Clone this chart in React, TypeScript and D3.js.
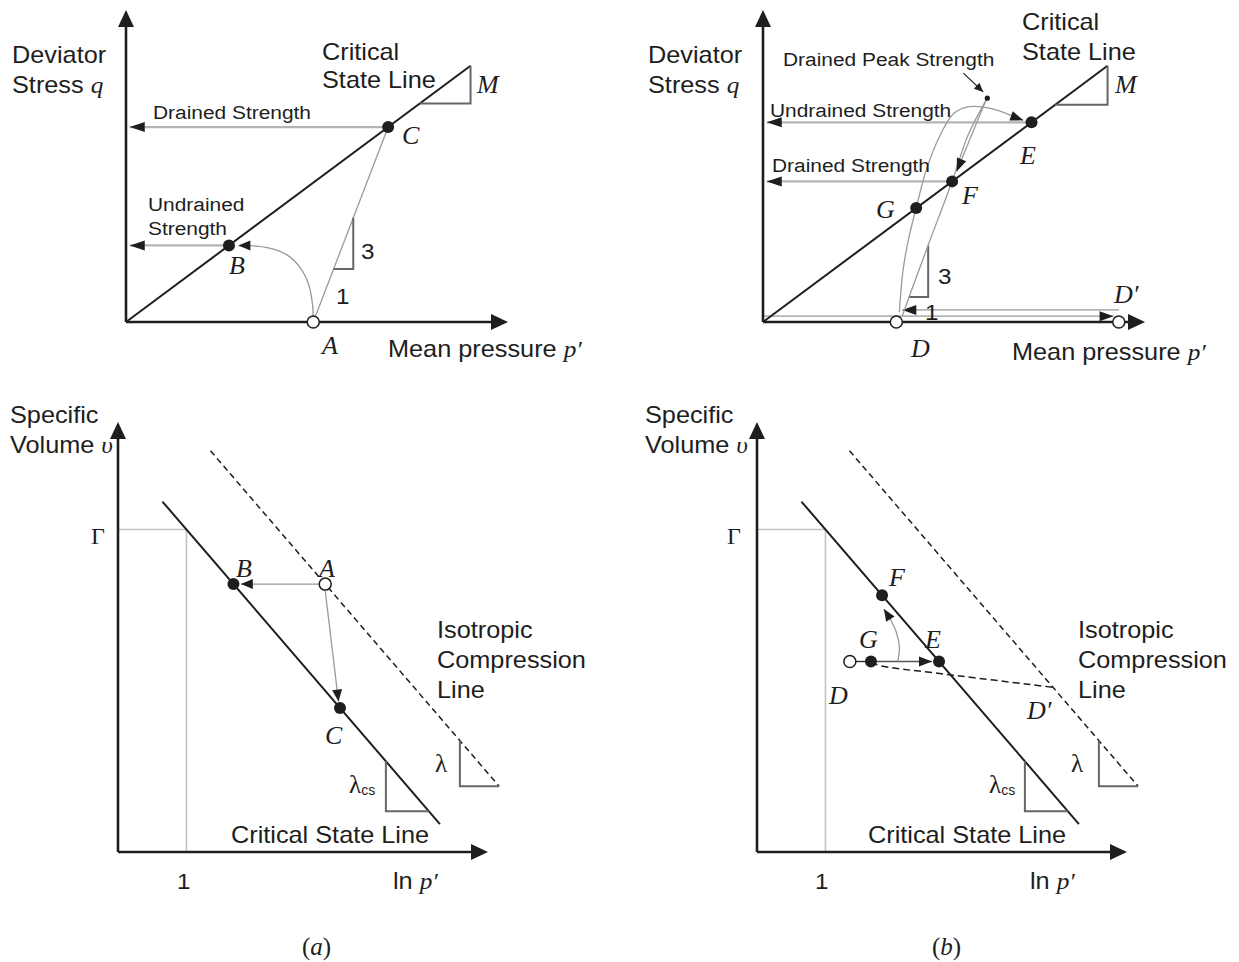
import React from "react";
import * as d3 from "d3";

type Pt = [number, number];

// ---------- p'–q plane (arbitrary stress units) ----------
const P_AXIS_END = 10.2;
const Q_AXIS_END = 8.0;
const M_SLOPE = 0.714;
const CSL_P_END = 9.2;
const M_TRI_P_A: Pt = [7.85, 9.2];
const M_TRI_P_B: Pt = [7.8, 9.2];

// (a) lightly overconsolidated sample
const A_P = 5.0;
const B_P = 2.75;
const C_P = 7.0;
const undrainedPathA: Pt[] = [
  [5.0, 0.0], [4.98, 0.45], [4.88, 0.95], [4.66, 1.38], [4.3, 1.72],
  [3.8, 1.9], [3.3, 1.96], [3.0, 1.96],
];
const drainedPathA: Pt[] = [[5.0, 0.0], [7.0, 5.0]];
const slopeTriQA: Pt = [1.36, 2.67];

// (b) heavily overconsolidated sample
const D_P = 3.56;
const D2_P = 9.5;
const E_P = 7.17;
const F_P = 5.05;
const G_P = 4.09;
const PEAK: Pt = [5.99, 5.74];
const undrainedPathB: Pt[] = [
  [3.64, 0.25], [3.74, 1.33], [3.88, 2.1], [4.09, 2.92], [4.36, 3.9],
  [4.73, 4.79], [5.1, 5.35], [5.5, 5.52], [6.1, 5.47], [6.95, 5.17],
];
const drainedUpB: Pt[] = [
  [3.72, 0.15], [3.9, 0.64], [4.41, 1.97], [5.05, 3.61], [5.48, 4.8], [5.99, 5.74],
];
const drainedDownB: Pt[] = [[5.95, 5.68], [5.17, 3.86]];
const loadingB: Pt[] = [[0, 0.15], [9.36, 0.15]];
const unloadingB: Pt[] = [[9.5, 0.31], [3.72, 0.31]];
const slopeTriB = { p: [3.9, 4.41], q: [0.64, 1.97] };
const peakPointer: Pt[] = [[5.35, 6.38], [5.88, 5.9]];

// ---------- v–ln p' plane ----------
const LN_AXIS_END = 10;
const V_AXIS_END = 10;
const GAMMA = 7.5;
const LN_P_ONE = 1.85;
const LAMBDA_CS = 1.0;
const N_ICL = 9.98;
const LAMBDA = 1.0;
const CSL_LN: Pt = [1.2, 8.7];
const ICL_LN: Pt = [2.5, 10.3];
const LCS_TRI: Pt = [7.24, 8.4];
const L_TRI: Pt = [9.24, 10.3];

// (a)
const A_LN = 5.6;
const B_LN = 3.12;
const C_LN = 6.0;
// (b)
const D_LN = 2.51;
const G_LN = 3.08;
const E_LN = 4.92;
const F_LN = 3.38;
const swellingB: Pt[] = [[3.08, 4.4], [3.4, 4.32], [5.14, 4.13], [8.0, 3.83]];
const drainedVB: Pt[] = [[3.8, 4.43], [3.85, 4.75], [3.77, 5.1], [3.6, 5.42], [3.43, 5.65]];

const cslV = (x: number) => GAMMA - LAMBDA_CS * (x - LN_P_ONE);
const iclV = (x: number) => N_ICL - LAMBDA * (x - LN_P_ONE);

const SANS = "'Liberation Sans', Arial, Helvetica, sans-serif";
const SERIF = "'Liberation Serif', 'Times New Roman', serif";
const INK = "#1e1e1e";
const GREY = "#9a9a9a";

function headPoints(from: Pt, to: Pt, len = 13, hw = 5): string {
  const dx = to[0] - from[0];
  const dy = to[1] - from[1];
  const d = Math.hypot(dx, dy) || 1;
  const ux = dx / d;
  const uy = dy / d;
  const bx = to[0] - ux * len;
  const by = to[1] - uy * len;
  return `${to[0]},${to[1]} ${bx - uy * hw},${by + ux * hw} ${bx + uy * hw},${by - ux * hw}`;
}

const smooth = d3.line<Pt>().curve(d3.curveCatmullRom.alpha(0.5));
const straight = d3.line<Pt>();

function Arrow({ pts, stroke = GREY, width = 1.3, curved = false, len = 13, hw = 5, dash }: {
  pts: Pt[]; stroke?: string; width?: number; curved?: boolean; len?: number; hw?: number; dash?: string;
}) {
  const n = pts.length;
  const d = (curved ? smooth : straight)(pts) || "";
  return (
    <g>
      <path d={d} fill="none" stroke={stroke} strokeWidth={width} strokeDasharray={dash} />
      <polygon points={headPoints(pts[n - 2], pts[n - 1], len, hw)} fill={INK} />
    </g>
  );
}

function Axes({ x0, y0, x1, y1 }: { x0: number; y0: number; x1: number; y1: number }) {
  return (
    <g>
      <line x1={x0} y1={y0} x2={x0} y2={y1 + 10} stroke={INK} strokeWidth={2.6} />
      <line x1={x0} y1={y0} x2={x1 - 10} y2={y0} stroke={INK} strokeWidth={2.6} />
      <polygon points={headPoints([x0, y0], [x0, y1], 17, 8)} fill={INK} />
      <polygon points={headPoints([x0, y0], [x1, y0], 17, 8)} fill={INK} />
    </g>
  );
}

function Label({ x, y, size = 23, children }: { x: number; y: number; size?: number; children: React.ReactNode }) {
  return (
    <text transform={`translate(${x},${y}) scale(1.1,1)`} fontFamily={SANS} fontSize={size} fill={INK}>
      {children}
    </text>
  );
}

function Sym({ x, y, size = 26, italic = true, children }: { x: number; y: number; size?: number; italic?: boolean; children: React.ReactNode }) {
  return (
    <text x={x} y={y} fontFamily={SERIF} fontStyle={italic ? "italic" : "normal"} fontSize={size} fill={INK}>
      {children}
    </text>
  );
}

const Ital = ({ children }: { children: React.ReactNode }) => (
  <tspan fontFamily={SERIF} fontStyle="italic">{children}</tspan>
);

function Dot({ x, y, open = false, r = 6 }: { x: number; y: number; open?: boolean; r?: number }) {
  return open ? (
    <circle cx={x} cy={y} r={r} fill="#fff" stroke={INK} strokeWidth={1.5} />
  ) : (
    <circle cx={x} cy={y} r={r} fill={INK} />
  );
}

export default function App() {
  const qY = d3.scaleLinear().domain([0, Q_AXIS_END]).range([322, 10]);
  const pXa = d3.scaleLinear().domain([0, P_AXIS_END]).range([126, 508]);
  const pXb = d3.scaleLinear().domain([0, P_AXIS_END]).range([763, 1145]);
  const vY = d3.scaleLinear().domain([0, V_AXIS_END]).range([852, 422]);
  const lnXa = d3.scaleLinear().domain([0, LN_AXIS_END]).range([118, 488]);
  const lnXb = d3.scaleLinear().domain([0, LN_AXIS_END]).range([757, 1127]);

  const top = (px: d3.ScaleLinear<number, number>) => (pt: Pt): Pt => [px(pt[0]), qY(pt[1])];
  const bot = (lx: d3.ScaleLinear<number, number>) => (pt: Pt): Pt => [lx(pt[0]), vY(pt[1])];
  const ta = top(pXa);
  const tb = top(pXb);
  const ba = bot(lnXa);
  const bb = bot(lnXb);

  // p' on the drained stress path of (a) at a given q
  const drainP = (q: number) => drainedPathA[0][0] + (q / drainedPathA[1][1]) * (drainedPathA[1][0] - drainedPathA[0][0]);

  const mTri = (t: (p: Pt) => Pt, pr: Pt) => {
    const a = t([pr[0], M_SLOPE * pr[0]]);
    const b = t([pr[1], M_SLOPE * pr[0]]);
    const c = t([pr[1], M_SLOPE * pr[1]]);
    return `M${a[0]},${a[1]}L${b[0]},${b[1]}L${c[0]},${c[1]}`;
  };

  const vTri = (t: (p: Pt) => Pt, pr: Pt, f: (x: number) => number) => {
    const a = t([pr[0], f(pr[0])]);
    const b = t([pr[0], f(pr[1])]);
    const c = t([pr[1], f(pr[1])]);
    return `M${a[0]},${a[1]}L${b[0]},${b[1]}L${c[0]},${c[1]}`;
  };

  const strengthArrow = (t: (p: Pt) => Pt, p: number, q: number) => (
    <Arrow pts={[t([p, q]), t([0.1, q])]} stroke="#b4b4b4" width={2.2} len={15} hw={5} />
  );

  const triStroke = "#666";

  return (
    <svg width={1239} height={962} style={{ position: "absolute", left: 0, top: 0, background: "#fff" }}>
      {/* ===== (a) p'–q ===== */}
      <g>
        {strengthArrow(ta, C_P, M_SLOPE * C_P)}
        {strengthArrow(ta, B_P, M_SLOPE * B_P)}
        <path d={straight([ta([0, 0]), ta([CSL_P_END, M_SLOPE * CSL_P_END])]) || ""} stroke={INK} strokeWidth={2} fill="none" />
        <path d={mTri(ta, M_TRI_P_A)} stroke={triStroke} strokeWidth={2} fill="none" />
        <path d={straight(drainedPathA.map(ta)) || ""} stroke={GREY} strokeWidth={1.3} fill="none" />
        <path
          d={(() => {
            const a = ta([drainP(slopeTriQA[0]), slopeTriQA[0]]);
            const b = ta([drainP(slopeTriQA[1]), slopeTriQA[0]]);
            const c = ta([drainP(slopeTriQA[1]), slopeTriQA[1]]);
            return `M${a[0]},${a[1]}L${b[0]},${b[1]}L${c[0]},${c[1]}`;
          })()}
          stroke={triStroke} strokeWidth={2} fill="none"
        />
        <Arrow pts={undrainedPathA.map(ta)} curved len={12} hw={5} />
        <Axes x0={pXa(0)} y0={qY(0)} x1={pXa(P_AXIS_END)} y1={qY(Q_AXIS_END)} />
        <Dot x={pXa(A_P)} y={qY(0)} open />
        <Dot x={pXa(B_P)} y={qY(M_SLOPE * B_P)} />
        <Dot x={pXa(C_P)} y={qY(M_SLOPE * C_P)} />

        <Label x={12} y={63}>Deviator</Label>
        <Label x={12} y={93}>Stress <Ital>q</Ital></Label>
        <Label x={322} y={60}>Critical</Label>
        <Label x={322} y={88}>State Line</Label>
        <Sym x={477} y={93}>M</Sym>
        <Label x={153} y={119} size={19}>Drained Strength</Label>
        <Label x={148} y={211} size={19}>Undrained</Label>
        <Label x={148} y={235} size={19}>Strength</Label>
        <Label x={361} y={259} size={22}>3</Label>
        <Label x={336} y={304} size={22}>1</Label>
        <Sym x={229} y={274}>B</Sym>
        <Sym x={402} y={144}>C</Sym>
        <Sym x={322} y={354}>A</Sym>
        <Label x={388} y={357}>Mean pressure <Ital>p′</Ital></Label>
      </g>

      {/* ===== (b) p'–q ===== */}
      <g>
        {strengthArrow(tb, E_P, M_SLOPE * E_P)}
        {strengthArrow(tb, F_P, M_SLOPE * F_P)}
        <Arrow pts={loadingB.map(tb)} stroke="#b4b4b4" width={1.6} len={14} hw={5} />
        <Arrow pts={unloadingB.map(tb)} stroke="#b4b4b4" width={1.6} len={14} hw={5} />
        <path d={straight([tb([0, 0]), tb([CSL_P_END, M_SLOPE * CSL_P_END])]) || ""} stroke={INK} strokeWidth={2} fill="none" />
        <path d={mTri(tb, M_TRI_P_B)} stroke={triStroke} strokeWidth={2} fill="none" />
        <path
          d={(() => {
            const a = tb([slopeTriB.p[0], slopeTriB.q[0]]);
            const b = tb([slopeTriB.p[1], slopeTriB.q[0]]);
            const c = tb([slopeTriB.p[1], slopeTriB.q[1]]);
            return `M${a[0]},${a[1]}L${b[0]},${b[1]}L${c[0]},${c[1]}`;
          })()}
          stroke={triStroke} strokeWidth={2} fill="none"
        />
        <path d={smooth(drainedUpB.map(tb)) || ""} stroke={GREY} strokeWidth={1.3} fill="none" />
        <Arrow pts={drainedDownB.map(tb)} len={13} hw={5} />
        <Arrow pts={undrainedPathB.map(tb)} curved len={13} hw={5} />
        <Arrow pts={peakPointer.map(tb)} stroke={INK} width={1.2} len={9} hw={4} />
        <Axes x0={pXb(0)} y0={qY(0)} x1={pXb(P_AXIS_END)} y1={qY(Q_AXIS_END)} />
        <Dot x={pXb(D_P)} y={qY(0)} open />
        <Dot x={pXb(D2_P)} y={qY(0)} open />
        <Dot x={pXb(E_P)} y={qY(M_SLOPE * E_P)} />
        <Dot x={pXb(F_P)} y={qY(M_SLOPE * F_P)} />
        <Dot x={pXb(G_P)} y={qY(M_SLOPE * G_P)} />
        <Dot x={pXb(PEAK[0])} y={qY(PEAK[1])} r={2.6} />

        <Label x={648} y={63}>Deviator</Label>
        <Label x={648} y={93}>Stress <Ital>q</Ital></Label>
        <Label x={1022} y={30}>Critical</Label>
        <Label x={1022} y={60}>State Line</Label>
        <Sym x={1115} y={93}>M</Sym>
        <Label x={783} y={66} size={19}>Drained Peak Strength</Label>
        <Label x={770} y={117} size={19}>Undrained Strength</Label>
        <Label x={772} y={172} size={19}>Drained Strength</Label>
        <Sym x={1020} y={164}>E</Sym>
        <Sym x={962} y={204}>F</Sym>
        <Sym x={876} y={218}>G</Sym>
        <Sym x={911} y={357}>D</Sym>
        <Sym x={1114} y={303}>D′</Sym>
        <Label x={938} y={284} size={22}>3</Label>
        <Label x={925} y={320} size={22}>1</Label>
        <Label x={1012} y={360}>Mean pressure <Ital>p′</Ital></Label>
      </g>

      {/* ===== (a) v–ln p' ===== */}
      <g>
        <path d={straight([ba([0, GAMMA]), ba([LN_P_ONE, GAMMA]), ba([LN_P_ONE, 0])]) || ""} stroke="#c4c4c4" strokeWidth={1.6} fill="none" />
        <path d={straight([ba([CSL_LN[0], cslV(CSL_LN[0])]), ba([CSL_LN[1], cslV(CSL_LN[1])])]) || ""} stroke={INK} strokeWidth={2} fill="none" />
        <path d={straight([ba([ICL_LN[0], iclV(ICL_LN[0])]), ba([ICL_LN[1], iclV(ICL_LN[1])])]) || ""} stroke={INK} strokeWidth={1.5} strokeDasharray="6 4" fill="none" />
        <path d={vTri(ba, LCS_TRI, cslV)} stroke={triStroke} strokeWidth={2} fill="none" />
        <path d={vTri(ba, L_TRI, iclV)} stroke={triStroke} strokeWidth={2} fill="none" />
        <Arrow pts={[ba([A_LN, iclV(A_LN)]), ba([B_LN + 0.2, cslV(B_LN)])]} len={12} hw={5} />
        <Arrow pts={[ba([A_LN, iclV(A_LN) - 0.15]), ba([C_LN - 0.04, cslV(C_LN) + 0.15])]} len={12} hw={5} />
        <Axes x0={lnXa(0)} y0={vY(0)} x1={lnXa(LN_AXIS_END)} y1={vY(V_AXIS_END)} />
        <Dot x={lnXa(A_LN)} y={vY(iclV(A_LN))} open />
        <Dot x={lnXa(B_LN)} y={vY(cslV(B_LN))} />
        <Dot x={lnXa(C_LN)} y={vY(cslV(C_LN))} />

        <Label x={10} y={423}>Specific</Label>
        <Label x={10} y={453}>Volume <Ital>υ</Ital></Label>
        <Sym x={91} y={544} italic={false} size={24}>Γ</Sym>
        <Sym x={236} y={577}>B</Sym>
        <Sym x={319} y={577}>A</Sym>
        <Sym x={325} y={744}>C</Sym>
        <Label x={437} y={638}>Isotropic</Label>
        <Label x={437} y={668}>Compression</Label>
        <Label x={437} y={698}>Line</Label>
        <Sym x={435} y={772} italic={false} size={25}>λ</Sym>
        <text x={349} y={793} fontFamily={SERIF} fontSize={25} fill={INK}>
          λ<tspan fontFamily={SANS} fontSize={14} dy={2}>cs</tspan>
        </text>
        <Label x={231} y={843}>Critical State Line</Label>
        <Label x={177} y={889} size={22}>1</Label>
        <Label x={393} y={889}>ln <Ital>p′</Ital></Label>
        <text x={302} y={955} fontFamily={SERIF} fontSize={25} fill={INK}>
          (<tspan fontStyle="italic">a</tspan>)
        </text>
      </g>

      {/* ===== (b) v–ln p' ===== */}
      <g>
        <path d={straight([bb([0, GAMMA]), bb([LN_P_ONE, GAMMA]), bb([LN_P_ONE, 0])]) || ""} stroke="#c4c4c4" strokeWidth={1.6} fill="none" />
        <path d={straight([bb([CSL_LN[0], cslV(CSL_LN[0])]), bb([CSL_LN[1], cslV(CSL_LN[1])])]) || ""} stroke={INK} strokeWidth={2} fill="none" />
        <path d={straight([bb([ICL_LN[0], iclV(ICL_LN[0])]), bb([ICL_LN[1], iclV(ICL_LN[1])])]) || ""} stroke={INK} strokeWidth={1.5} strokeDasharray="6 4" fill="none" />
        <path d={vTri(bb, LCS_TRI, cslV)} stroke={triStroke} strokeWidth={2} fill="none" />
        <path d={vTri(bb, L_TRI, iclV)} stroke={triStroke} strokeWidth={2} fill="none" />
        <path d={smooth(swellingB.map(bb)) || ""} stroke={INK} strokeWidth={1.5} strokeDasharray="7 4" fill="none" />
        <path d={straight([bb([D_LN, cslV(E_LN)]), bb([G_LN, cslV(E_LN)])]) || ""} stroke={INK} strokeWidth={1.3} fill="none" />
        <Arrow pts={[bb([G_LN, cslV(E_LN)]), bb([E_LN - 0.19, cslV(E_LN)])]} stroke="#555" len={13} hw={5} />
        <Arrow pts={drainedVB.map(bb)} curved len={12} hw={5} />
        <Axes x0={lnXb(0)} y0={vY(0)} x1={lnXb(LN_AXIS_END)} y1={vY(V_AXIS_END)} />
        <Dot x={lnXb(D_LN)} y={vY(cslV(E_LN))} open />
        <Dot x={lnXb(G_LN)} y={vY(cslV(E_LN))} />
        <Dot x={lnXb(E_LN)} y={vY(cslV(E_LN))} />
        <Dot x={lnXb(F_LN)} y={vY(cslV(F_LN))} />

        <Label x={645} y={423}>Specific</Label>
        <Label x={645} y={453}>Volume <Ital>υ</Ital></Label>
        <Sym x={727} y={544} italic={false} size={24}>Γ</Sym>
        <Sym x={889} y={586}>F</Sym>
        <Sym x={925} y={648}>E</Sym>
        <Sym x={859} y={648}>G</Sym>
        <Sym x={829} y={704}>D</Sym>
        <Sym x={1027} y={719}>D′</Sym>
        <Label x={1078} y={638}>Isotropic</Label>
        <Label x={1078} y={668}>Compression</Label>
        <Label x={1078} y={698}>Line</Label>
        <Sym x={1071} y={772} italic={false} size={25}>λ</Sym>
        <text x={989} y={793} fontFamily={SERIF} fontSize={25} fill={INK}>
          λ<tspan fontFamily={SANS} fontSize={14} dy={2}>cs</tspan>
        </text>
        <Label x={868} y={843}>Critical State Line</Label>
        <Label x={815} y={889} size={22}>1</Label>
        <Label x={1030} y={889}>ln <Ital>p′</Ital></Label>
        <text x={932} y={955} fontFamily={SERIF} fontSize={25} fill={INK}>
          (<tspan fontStyle="italic">b</tspan>)
        </text>
      </g>
    </svg>
  );
}
